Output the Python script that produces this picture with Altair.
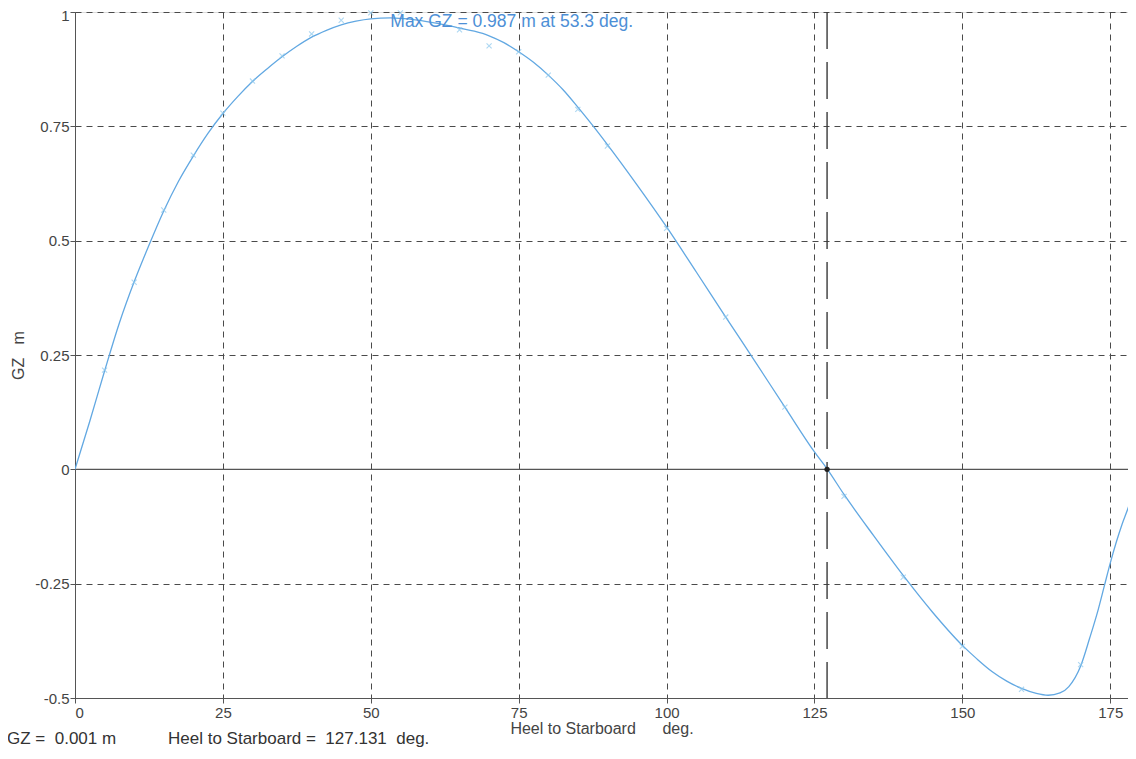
import altair as alt
import pandas as pd

# ---- data ----
curve_deg = [0, 2.5, 5, 7.5, 10, 12.5, 15, 17.5, 20, 22.5, 25, 27.5, 30, 32.5, 35, 37.5, 40, 42.5,
             45, 47.5, 50, 53.3, 55, 57.5, 60, 62.5, 65, 67.5, 70, 72.5, 75, 77.5, 80, 82.5, 85,
             87.5, 90, 95, 100, 105, 110, 115, 120, 125, 127.131, 130, 135, 140, 145, 150, 152.5,
             155, 157.5, 160, 162.5, 164.5, 166.5, 168, 170, 171.5, 173, 174, 175, 176, 177, 178, 179]
curve_gz = [0, 0.105, 0.215, 0.32, 0.41, 0.49, 0.565, 0.63, 0.685, 0.735, 0.778, 0.815, 0.848,
            0.876, 0.902, 0.925, 0.945, 0.96, 0.972, 0.98, 0.985, 0.987, 0.986, 0.983, 0.978,
            0.972, 0.965, 0.958, 0.948, 0.933, 0.913, 0.89, 0.862, 0.83, 0.792, 0.752, 0.71,
            0.622, 0.53, 0.432, 0.333, 0.235, 0.136, 0.038, 0.001, -0.055, -0.145, -0.232,
            -0.313, -0.385, -0.415, -0.442, -0.463, -0.479, -0.49, -0.494, -0.489, -0.475,
            -0.43, -0.37, -0.305, -0.255, -0.205, -0.16, -0.12, -0.085, -0.045]

marker_deg = [5, 10, 15, 20, 25, 30, 35, 40, 45, 50, 55, 65, 70, 75, 80, 85, 90,
              100, 110, 120, 130, 140, 150, 160, 170]
marker_gz = [0.217, 0.409, 0.567, 0.687, 0.779, 0.849, 0.904, 0.952, 0.982, 0.998, 0.998,
             0.961, 0.926, 0.913, 0.862, 0.787, 0.707, 0.527, 0.333, 0.136, -0.059, -0.236,
             -0.387, -0.481, -0.427]

x_ticks = [0, 25, 50, 75, 100, 125, 150, 175]
y_ticks = [-0.5, -0.25, 0, 0.25, 0.5, 0.75, 1]

vanish_deg = [127.131]
vanish_gz = [0.0]

max_text = ["Max GZ = 0.987 m at 53.3 deg."]
max_deg = [53.3]
max_gz = [1.0]

NB = "\u00a0"
footer_text = ["GZ =" + NB * 2 + "0.001 m", "Heel to Starboard =" + NB * 2 + "127.131" + NB * 2 + "deg."]
footer_px = [-68, 93]

x_title = "Heel to Starboard" + NB * 6 + "deg."
y_title = "GZ" + NB * 3 + "m"

FONT = "Liberation Sans"
GRID = "#4a4a4a"
TEXT = "#444444"

curve_df = pd.DataFrame({"deg": curve_deg, "gz": curve_gz})
marker_df = pd.DataFrame({"deg": marker_deg, "gz": marker_gz})
vanish_df = pd.DataFrame({"deg": vanish_deg, "gz": vanish_gz})
max_df = pd.DataFrame({"deg": max_deg, "gz": max_gz, "label": max_text})
footer_df = pd.DataFrame({"label": footer_text, "px": footer_px})
zero_df = pd.DataFrame({"gz": [0.0]})

W, H = 1053, 686
x_scale = alt.Scale(domain=[0, 178], nice=False, zero=False)
y_scale = alt.Scale(domain=[-0.5, 1], nice=False)

x_axis = alt.Axis(values=x_ticks, grid=True, gridDash=[6, 5], gridColor=GRID, gridOpacity=1,
                  domainColor="#555555", tickColor="#555555", tickSize=5, labelPadding=2,
                  labelFont=FONT, labelFontSize=15, labelColor=TEXT, labelExpr="'' + datum.value",
                  title=x_title, titleFont=FONT, titleFontSize=16, titleFontWeight="normal",
                  titleColor=TEXT, titleY=30, titleBaseline="middle")
y_axis = alt.Axis(values=y_ticks, grid=True, gridDash=[6, 5], gridColor=GRID, gridOpacity=1,
                  domainColor="#555555", tickColor="#555555", tickSize=5, labelPadding=1,
                  labelFont=FONT, labelFontSize=15, labelColor=TEXT, labelExpr="'' + datum.value",
                  labelOffset={"condition": {"test": "datum.value == 1", "value": 3.5}, "value": 0},
                  title=y_title, titleFont=FONT, titleFontSize=16, titleFontWeight="normal",
                  titleColor=TEXT, titleX=-57, titleBaseline="middle")

base_x = alt.X("deg:Q", scale=x_scale, axis=x_axis)
base_y = alt.Y("gz:Q", scale=y_scale, axis=y_axis)

zero_line = alt.Chart(zero_df).mark_rule(color="#555555", strokeWidth=1.2).encode(
    y=alt.Y("gz:Q", scale=y_scale))

curve = alt.Chart(curve_df).mark_line(color="#62a8e2", strokeWidth=1.3, interpolate="monotone",
                                      clip=True).encode(x=base_x, y=base_y)

markers = alt.Chart(marker_df).mark_point(shape="M-1,-1L1,1M-1,1L1,-1", filled=False,
                                          color="#8cc8ee", size=26, strokeWidth=1.1).encode(
    x=alt.X("deg:Q", scale=x_scale), y=alt.Y("gz:Q", scale=y_scale))

vline = alt.Chart(vanish_df).mark_rule(color="#3a3a3a", strokeWidth=1.4,
                                       strokeDash=[37, 13]).encode(
    x=alt.X("deg:Q", scale=x_scale))

dot = alt.Chart(vanish_df).mark_circle(color="#222222", size=28, opacity=1).encode(
    x=alt.X("deg:Q", scale=x_scale), y=alt.Y("gz:Q", scale=y_scale))

max_label = alt.Chart(max_df).mark_text(align="left", baseline="top", font=FONT, fontSize=17.5,
                                        color="#4d8fd6", dy=1).encode(
    x=alt.X("deg:Q", scale=x_scale), y=alt.Y("gz:Q", scale=y_scale), text="label:N")

footer = alt.Chart(footer_df).mark_text(align="left", baseline="middle", font=FONT, fontSize=17,
                                        color="#333333").encode(
    x=alt.X("px:Q", scale=None), y=alt.value(H + 41), text="label:N")

chart = alt.layer(zero_line, curve, markers, vline, dot, max_label, footer).properties(
    width=W, height=H,
    autosize=alt.AutoSizeParams(type="none"),
    padding={"left": 67, "top": 4, "right": 0, "bottom": 49},
).configure_view(stroke=None).configure(background="white")

chart.save("out.html", embed_options={"renderer": "svg", "actions": False})
